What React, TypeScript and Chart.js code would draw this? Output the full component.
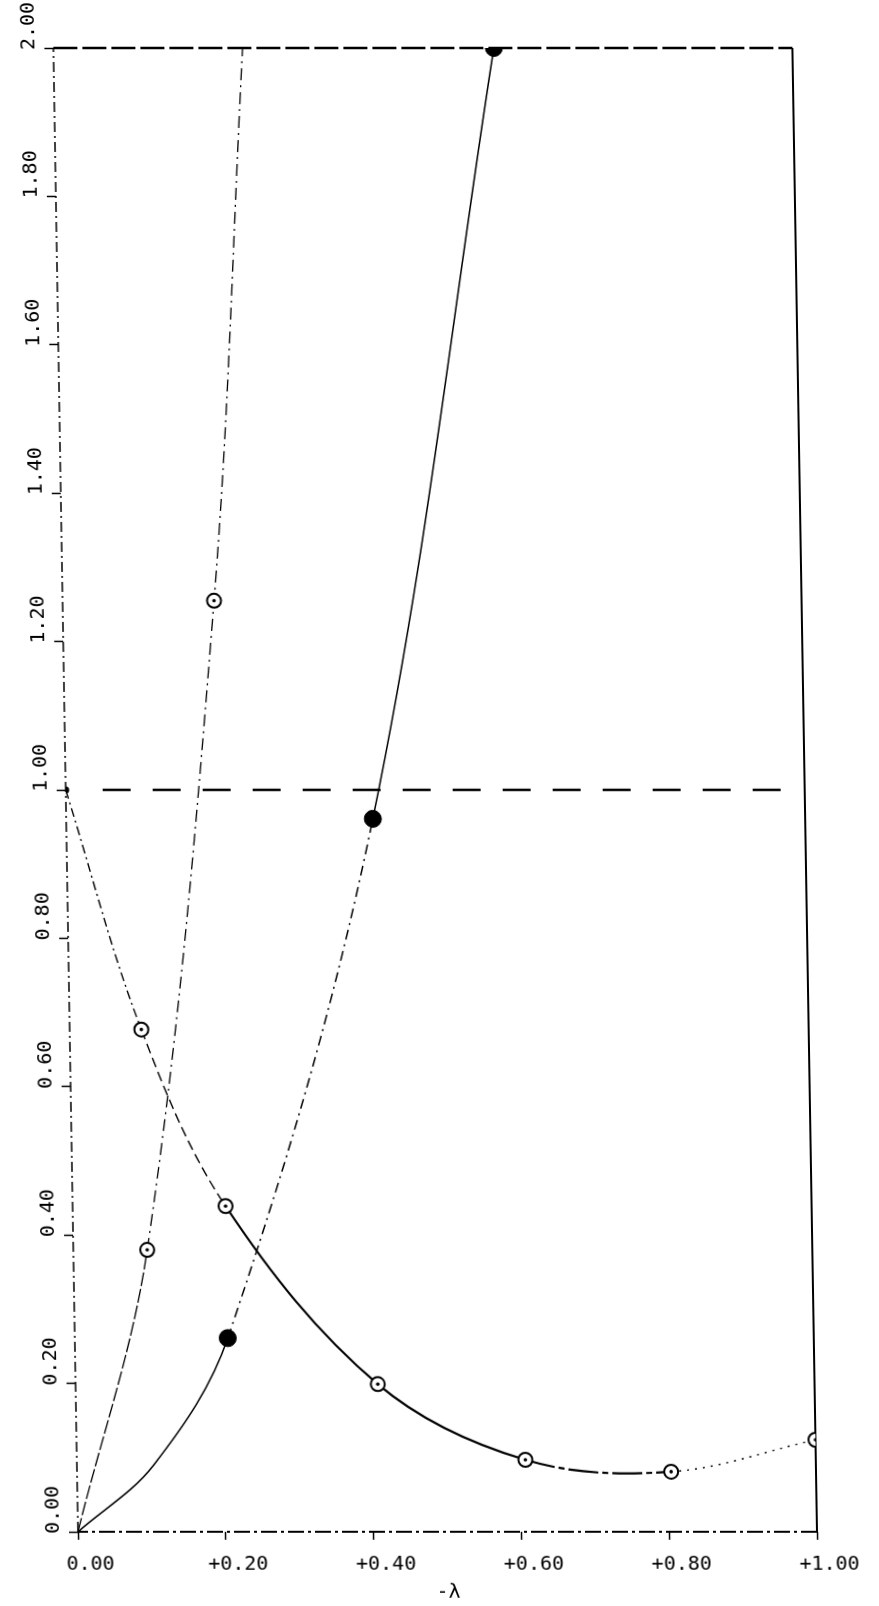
import React, { useEffect, useRef } from "react";
import { Chart, registerables } from "chart.js";

Chart.register(...registerables);

// ---- data ----
const xTickValues = [0, 0.2, 0.4, 0.6, 0.8, 1.0];
const xTickLabels = ["0.00", "+0.20", "+0.40", "+0.60", "+0.80", "+1.00"];
const yTickValues = [0, 0.2, 0.4, 0.6, 0.8, 1.0, 1.2, 1.4, 1.6, 1.8, 2.0];
const yTickLabels = ["0.00", "0.20", "0.40", "0.60", "0.80", "1.00", "1.20", "1.40", "1.60", "1.80", "2.00"];

// decreasing curve (open circles)
const decX = [0.0, 0.097, 0.207, 0.409, 0.607, 0.804, 1.0];
const decY = [1.0, 0.677, 0.439, 0.199, 0.097, 0.081, 0.124];
const decMarker = [false, true, true, true, true, true, true];

// steep curve (open circles)
const steepX = [0.0, 0.1, 0.205, 0.256];
const steepY = [0.0, 0.38, 1.255, 2.0];
const steepMarker = [false, true, true, false];

// filled-circle curve (second point is an unmarked point the drawn curve passes through)
const filledX = [0.0, 0.104, 0.207, 0.415, 0.596];
const filledY = [0.0, 0.09, 0.261, 0.961, 2.0];
const filledMarker = [false, false, true, true, true];

// horizontal reference line at 1.00
const refX = [0.05, 0.99];
const refY = [1.0, 1.0];

// plot frame (left, top, right, bottom sides)
const frameX = [0, 0, 1, 1, 0];
const frameY = [0, 2, 2, 0, 0];

const pts = (xs: number[], ys: number[]) => xs.map((x, i) => ({ x, y: ys[i] }));

const FONT = "'DejaVu Sans Mono', 'Liberation Mono', monospace";

export default function App() {
  const ref = useRef<HTMLCanvasElement | null>(null);

  useEffect(() => {
    document.body.style.margin = "0";
    const canvas = ref.current;
    if (!canvas) return;

    const centers = [
      ...pts(decX, decY).filter((_, i) => decMarker[i]),
      ...pts(steepX, steepY).filter((_, i) => steepMarker[i]),
    ];

    const frameDash = [[10, 4, 2, 4], [24, 5], [45, 3], [16, 4, 3, 4]];
    const frameWidth = [1.5, 2.5, 2, 2];

    const chart = new Chart(canvas, {
      type: "scatter",
      data: {
        datasets: [
          {
            label: "centres",
            data: centers,
            showLine: false,
            pointRadius: 1.8,
            pointBackgroundColor: "#000",
            pointBorderWidth: 0,
          },
          {
            label: "decreasing",
            data: pts(decX, decY),
            showLine: true,
            borderColor: "#000",
            borderWidth: 2,
            tension: 0.35,
            segment: {
              borderDash: (ctx: any) =>
                ctx.p0DataIndex === 0
                  ? [9, 4, 2, 4]
                  : ctx.p0DataIndex === 1
                  ? [10, 5]
                  : ctx.p0DataIndex === 5
                  ? [2, 6]
                  : ctx.p0DataIndex === 4
                  ? [30, 4, 6, 4]
                  : undefined,
              borderWidth: (ctx: any) => (ctx.p0DataIndex <= 1 || ctx.p0DataIndex === 5 ? 1.4 : 2.2),
            },
            pointRadius: decX.map((_, i) => (decMarker[i] ? 7 : 2.5)),
            pointBackgroundColor: decX.map((_, i) => (decMarker[i] ? "#fff" : "#000")),
            pointBorderColor: "#000",
            pointBorderWidth: 2,
          },
          {
            label: "steep",
            data: pts(steepX, steepY),
            showLine: true,
            borderColor: "#000",
            borderWidth: 1.3,
            tension: 0.35,
            segment: {
              borderDash: (ctx: any) => (ctx.p0DataIndex === 0 ? [14, 3] : [12, 5, 2, 5]),
            },
            pointRadius: steepX.map((_, i) => (steepMarker[i] ? 7 : 0)),
            pointBackgroundColor: "#fff",
            pointBorderColor: "#000",
            pointBorderWidth: 2,
          },
          {
            label: "filled",
            data: pts(filledX, filledY),
            showLine: true,
            borderColor: "#000",
            borderWidth: 1.5,
            tension: 0.35,
            segment: {
              borderDash: (ctx: any) => (ctx.p0DataIndex === 2 ? [10, 5, 2, 5] : undefined),
            },
            pointRadius: filledX.map((_, i) => (filledMarker[i] ? 8.5 : 0)),
            pointBackgroundColor: "#000",
            pointBorderColor: "#000",
            pointBorderWidth: 1,
          },
          {
            label: "ref",
            data: pts(refX, refY),
            showLine: true,
            borderColor: "#000",
            borderWidth: 2.5,
            borderDash: [28, 22],
            tension: 0,
            pointRadius: 0,
          },
          {
            label: "frame",
            data: pts(frameX, frameY),
            showLine: true,
            borderColor: "#000",
            tension: 0,
            pointRadius: 0,
            clip: false,
            segment: {
              borderDash: (ctx: any) => frameDash[ctx.p0DataIndex],
              borderWidth: (ctx: any) => frameWidth[ctx.p0DataIndex],
            },
          },
        ],
      },
      options: {
        responsive: false,
        animation: false,
        devicePixelRatio: 1,
        layout: { padding: 0 },
        plugins: {
          legend: { display: false },
          tooltip: { enabled: false },
          title: { display: false },
        },
        scales: {
          x: {
            type: "linear",
            position: "bottom",
            min: 0,
            max: 1,
            afterBuildTicks: (s: any) => {
              s.ticks = xTickValues.map((v) => ({ value: v }));
            },
            afterFit: (s: any) => {
              s.height = 74;
            },
            ticks: {
              color: "#000",
              font: { family: FONT, size: 20 },
              padding: 13,
              labelOffset: 12,
              maxRotation: 0,
              minRotation: 0,
              callback: (_v: any, i: number) => xTickLabels[i],
            },
            grid: {
              display: true,
              drawOnChartArea: false,
              drawTicks: true,
              tickLength: 8,
              tickColor: "#000",
              tickWidth: 1.5,
            },
            border: { display: false },
            title: {
              display: true,
              text: "-λ",
              color: "#000",
              font: { family: FONT, size: 20 },
              padding: { top: 0, bottom: 1 },
            },
          },
          y: {
            type: "linear",
            position: "left",
            min: 0,
            max: 2,
            afterBuildTicks: (s: any) => {
              s.ticks = yTickValues.map((v) => ({ value: v }));
            },
            afterFit: (s: any) => {
              s.width = 78;
            },
            ticks: {
              color: "#000",
              font: { family: FONT, size: 20 },
              minRotation: 90,
              maxRotation: 90,
              crossAlign: "center",
              padding: -9,
              labelOffset: -22,
              callback: (_v: any, i: number) => yTickLabels[i],
            },
            grid: {
              display: true,
              drawOnChartArea: false,
              drawTicks: true,
              tickLength: 9,
              tickColor: "#000",
              tickWidth: 1.5,
            },
            border: { display: false },
          },
          xTop: {
            type: "linear",
            position: "top",
            min: 0,
            max: 1,
            afterFit: (s: any) => {
              s.height = 48;
            },
            ticks: { display: false },
            grid: { display: false },
            border: { display: false },
          },
          yRight: {
            type: "linear",
            position: "right",
            min: 0,
            max: 2,
            afterFit: (s: any) => {
              s.width = 62;
            },
            ticks: { display: false },
            grid: { display: false },
            border: { display: false },
          },
        },
      },
    } as any);

    return () => chart.destroy();
  }, []);

  return (
    <div
      style={{
        position: "absolute",
        left: 0,
        top: 0,
        width: 879,
        height: 1606,
        background: "#fff",
        transform: "skewX(0.95deg)",
        transformOrigin: "0px 1532px",
      }}
    >
      <canvas ref={ref} width={879} height={1606} style={{ width: 879, height: 1606, display: "block" }} />
    </div>
  );
}
